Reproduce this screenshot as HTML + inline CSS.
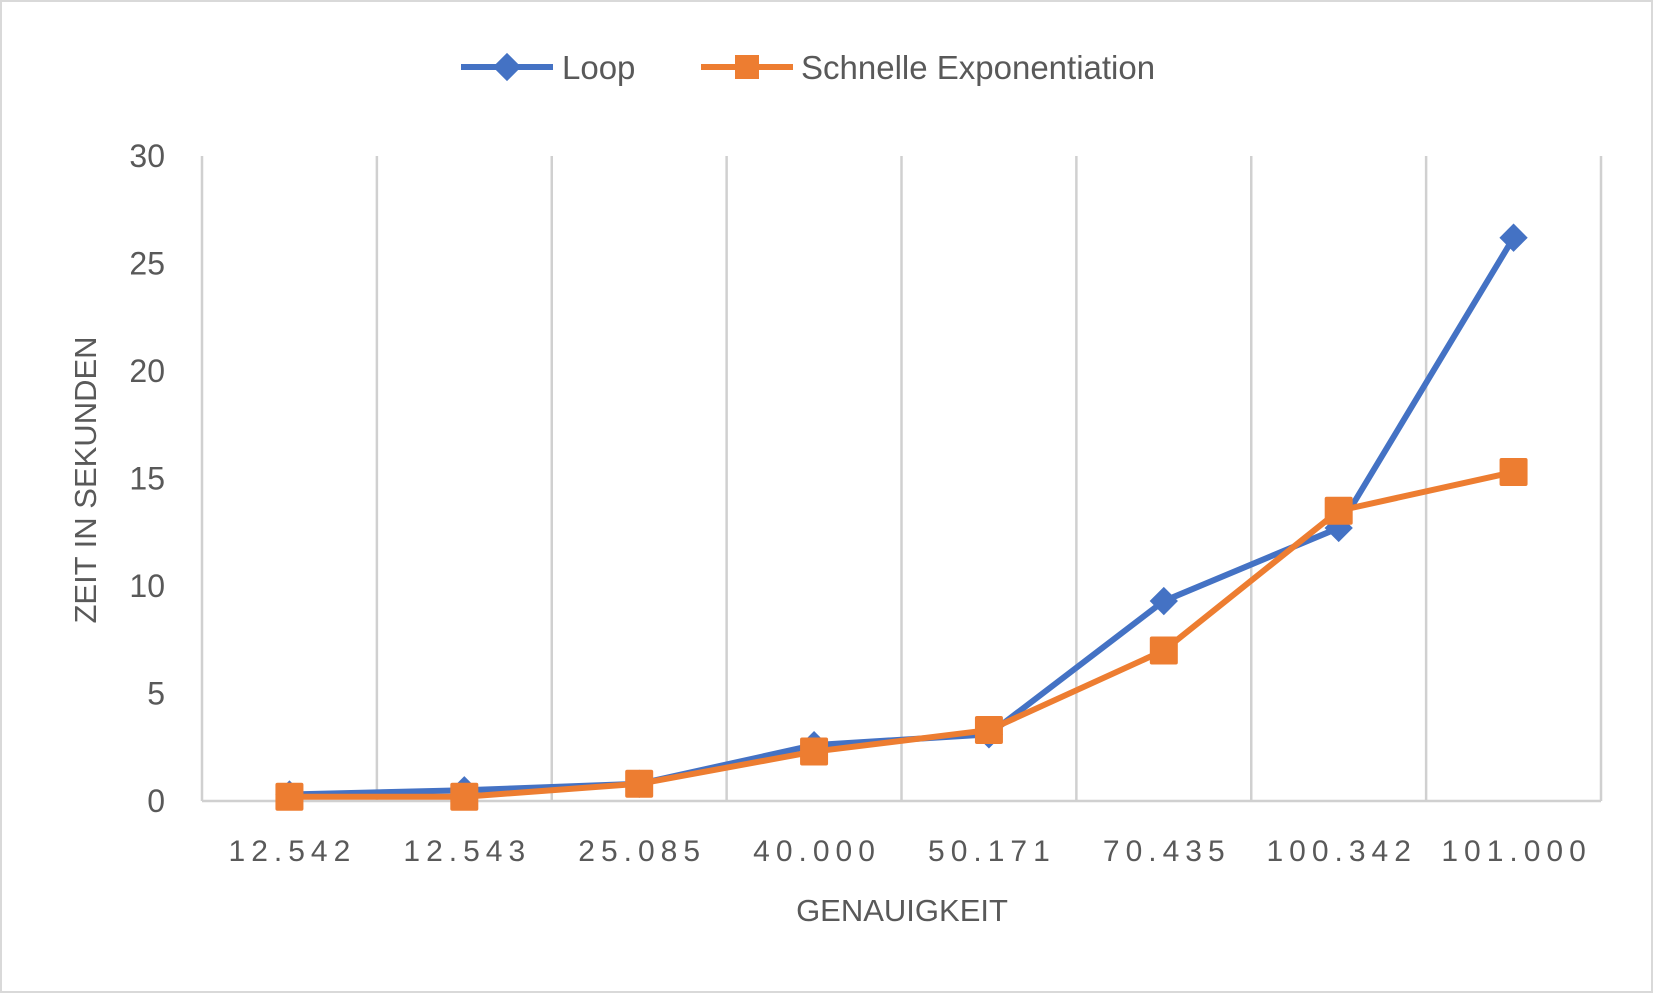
<!DOCTYPE html>
<html><head><meta charset="utf-8"><style>
body{margin:0;background:#fff}
svg{display:block;font-family:"Liberation Sans",sans-serif}
</style></head><body>
<svg id="c" width="1653" height="993">
<rect x="1" y="1" width="1651" height="991" fill="#fff" stroke="#d9d9d9" stroke-width="2"/>
<g id="grid"></g><g id="axes"></g><g id="series"></g>
<g>
<g>
<line x1="461" y1="67" x2="553" y2="67" stroke="#4472c4" stroke-width="6"/>
<rect x="497" y="57" width="20" height="20" fill="#4472c4" transform="rotate(45 507 67)"/>
<text x="562" y="79" font-size="33" fill="#595959">Loop</text></g>
<g>
<line x1="701" y1="67" x2="793" y2="67" stroke="#ed7d31" stroke-width="6"/>
<rect x="735" y="55" width="24" height="24" fill="#ed7d31"/>
<text x="801" y="79" font-size="33" fill="#595959">Schnelle Exponentiation</text></g>
</g>
<text x="902" y="921" font-size="31" fill="#595959" text-anchor="middle">GENAUIGKEIT</text>
<text x="0" y="0" font-size="31" fill="#595959" text-anchor="middle" transform="translate(96 480) rotate(-90)">ZEIT IN SEKUNDEN</text>
</svg>
<script>
const categories=["12.542","12.543","25.085","40.000","50.171","70.435","100.342","101.000"];
const loopValues=[0.3,0.5,0.8,2.6,3.1,9.3,12.7,26.2];
const fastValues=[0.2,0.2,0.8,2.3,3.3,7.0,13.5,15.3];
const yTicks=[0,5,10,15,20,25,30];
const L=202,R=1601,T=156,B=801,yMax=30;
const bw=(R-L)/categories.length;
const xs=i=>L+bw*(i+0.5), ys=v=>B-(v/yMax)*(B-T);
const NS="http://www.w3.org/2000/svg";
function mk(p,t,a){const e=document.createElementNS(NS,t);for(const k in a)e.setAttribute(k,a[k]);p.appendChild(e);return e;}
const g=document.getElementById('grid'),ax=document.getElementById('axes'),s=document.getElementById('series');
for(let i=0;i<=categories.length;i++){
 const l=mk(g,'line',{x1:L+bw*i,x2:L+bw*i,y1:T,y2:B,stroke:'#d0d0d0','stroke-width':2.5});
 
 
}
const base=mk(ax,'line',{x1:L,x2:R,y1:B,y2:B,stroke:'#d0d0d0','stroke-width':2.5});


yTicks.forEach(v=>{
 const t=mk(ax,'text',{x:165,y:ys(v)+11,'font-size':32,fill:'#595959','text-anchor':'end'});t.textContent=v;
 
 
});
categories.forEach((c,i)=>{
 const t=mk(ax,'text',{x:xs(i)+3,y:861,'font-size':30,fill:'#595959','text-anchor':'middle','letter-spacing':'6'});t.textContent=c;
 
 
});
function line(vals,col,name){
 const p=mk(s,'polyline',{points:vals.map((v,i)=>xs(i)+','+ys(v)).join(' '),fill:'none',stroke:col,'stroke-width':6,'stroke-linejoin':'round'});
 
 
}
line(loopValues,'#4472c4','loop');
line(fastValues,'#ed7d31','schnelle');
loopValues.forEach((v,i)=>{
 const x=xs(i),y=ys(v);
 const m=mk(s,'rect',{x:x-10,y:y-10,width:20,height:20,fill:'#4472c4',transform:`rotate(45 ${x} ${y})`});
 
 
});
fastValues.forEach((v,i)=>{
 const x=xs(i),y=ys(v);
 const m=mk(s,'rect',{x:x-14,y:y-14,width:28,height:28,rx:2,fill:'#ed7d31'});
 
 
});
</script>
</body></html>
